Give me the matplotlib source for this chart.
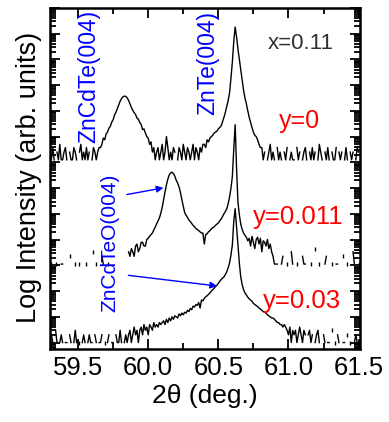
import numpy as np
import matplotlib
matplotlib.use("Agg")
import matplotlib.pyplot as plt
from matplotlib.ticker import MultipleLocator, LogLocator, NullFormatter, FormatStrFormatter

plt.rcParams['font.family'] = ['Liberation Sans', 'DejaVu Sans']

# scan grid, 2theta in degrees (step 0.01)
two_theta = np.round(np.arange(59.30, 61.5001, 0.01), 2)

# raw counts, y = 0
counts_y0 = (
    # 59.30 - 59.65
    [2, 1, 3, 1, 0, 2, 1, 4, 1, 1, 2, 3, 1, 0, 2, 1, 1, 3, 2, 1, 0, 2, 4, 1, 2, 1, 3, 1, 2, 0,
     1, 3, 2, 1, 2, 3]
    # 59.66 - 60.04  ZnCdTe(004)
    + [3, 4, 7, 6, 10, 12, 17, 20, 29, 36, 56, 70, 98, 140, 190, 240, 280, 300, 292, 260,
       205, 150, 110, 85, 68, 58, 42, 38, 28, 24, 15, 16, 11, 8, 7, 4, 5, 2, 3]
    # 60.05 - 60.39
    + [1, 2, 3, 1, 2, 4, 1, 2, 8, 3, 1, 2, 1, 3, 2, 0, 1, 3, 2, 1, 4, 2, 1, 3, 2, 1, 2, 4, 1, 3,
       2, 1, 3, 2, 4]
    # 60.40 - 60.80  ZnTe(004)
    + [4, 3, 6, 5, 7, 8, 9, 11, 12, 13, 16, 18, 21, 30, 45, 70, 120, 200, 400, 1500,
       6300, 40000, 145000, 60000, 20000, 8000, 3200, 1200, 500, 250, 150, 80, 45, 28, 18, 12,
       9, 8, 6, 4, 3]
    # 60.81 - 61.50
    + [3, 1, 2, 0, 1, 2, 4, 1, 2, 1, 0, 3, 1, 2, 1, 0, 2, 1, 3, 0, 1, 2, 1, 1, 0, 3, 1, 2, 0, 1,
       2, 3, 1, 0, 2, 1, 3, 1, 2, 0, 1, 4, 2, 1, 0, 2, 1, 3, 1, 0, 2, 1, 1, 3, 0, 2, 1, 2, 0, 1,
       3, 1, 0, 2, 1, 2, 0, 1, 3, 2]
)

# y = 0.011
counts_y011 = (
    # 59.30 - 59.85
    [0, 1, 0, 0, 1, 0, 0, 0, 1, 1, 0, 0, 0, 0, 2, 0, 0, 0, 1, 0, 0, 1, 0, 0, 0, 0, 1, 0, 0, 0,
     0, 3, 0, 1, 0, 0, 0, 2, 1, 0, 0, 1, 0, 0, 0, 0, 0, 0, 0, 0, 0, 0, 0, 0, 0, 0]
    # 59.86 - 60.70  ZnCdTeO(004) + ZnTe(004)
    + [3, 2, 4, 3, 2, 5, 6, 3, 4, 7, 7, 5, 5, 9, 10, 12, 14, 16, 21, 28,
       36, 48, 62, 95, 160, 320, 630, 1200, 2000, 2900, 3500, 3700, 3300, 2600, 1800, 1400, 1000, 600, 320, 180,
       100, 80, 63, 52, 45, 38, 32, 28, 24, 22, 20, 18, 16, 16, 6, 14, 15, 18, 20, 23,
       26, 28, 32, 36, 40, 48, 56, 70, 90, 110, 140, 220, 400, 900, 2500, 30000, 260000, 5000, 250, 80,
       35, 22, 16, 13, 11]
    # 60.71 - 60.90  shoulder
    + [8, 10, 5, 12, 7, 4, 9, 11, 6, 10, 3, 8, 7, 5, 9, 4, 6, 3, 2, 1]
    # 60.91 - 61.50
    + [1, 1, 0, 0, 1, 2, 0, 0, 1, 0, 0, 3, 1, 0, 0, 1, 0, 0, 0, 2, 1, 1, 0, 0, 0, 1, 0, 0, 4, 0,
       0, 1, 0, 0, 0, 1, 2, 0, 0, 0, 1, 0, 0, 1, 1, 0, 0, 0, 2, 0, 0, 1, 0, 0, 0, 3, 1, 0, 0, 1]
)

# y = 0.03
counts_y03 = (
    # 59.30 - 59.85
    [1, 2, 1, 0, 3, 1, 0, 1, 2, 1, 0, 1, 1, 0, 2, 1, 0, 1, 3, 1, 0, 1, 0, 1, 2, 1, 0, 1, 2, 1,
     1, 0, 2, 1, 0, 1, 1, 2, 0, 1, 0, 1, 2, 0, 1, 1, 0, 2, 1, 1, 3, 1, 0, 1, 2, 1]
    # 59.86 - 60.05
    + [2, 3, 1, 2, 4, 2, 3, 1, 3, 4, 2, 5, 3, 4, 2, 5, 4, 3, 6, 4]
    # 60.06 - 60.98  ZnTe(004) with ZnCdTeO shoulder
    + [5, 4, 6, 5, 6, 7, 5, 8, 6, 9, 7, 10, 8, 11, 10, 9, 13, 11, 14, 12,
       15, 14, 18, 16, 21, 19, 26, 24, 30, 28, 36, 22, 45, 42, 52, 60, 66, 75, 85, 100,
       112, 130, 150, 170, 200, 240, 280, 320, 355, 440, 560, 800, 1260, 2500, 6300, 50000, 160000, 30000, 5000, 1200,
       350, 180, 112, 85, 70, 58, 50, 45, 40, 33, 30, 27, 25, 22, 20, 18, 16, 15, 14, 12,
       11, 10, 9, 9, 8, 7, 6, 6, 5, 5, 4, 5, 4]
    # 60.99 - 61.21
    + [3, 2, 4, 1, 3, 2, 3, 1, 2, 4, 2, 1, 3, 2, 0, 2, 3, 1, 2, 0, 1, 2, 3]
    # 61.22 - 61.50
    + [1, 0, 0, 2, 1, 0, 1, 1, 0, 3, 0, 1, 0, 2, 1, 0, 0, 1, 1, 0, 2, 0, 1, 0, 0, 1, 2, 1, 0]
)

# vertical offsets (decades) used to stack the scans
offsets = [7.1, 3.05, 0.0]
labels = ["y=0", "y=0.011", "y=0.03"]

fig = plt.figure(figsize=(3.89, 4.22), dpi=100)
ax = fig.add_axes([0.1285, 0.173, 0.797, 0.808])

for c, off in zip([counts_y0, counts_y011, counts_y03], offsets):
    assert len(c) == len(two_theta), len(c)
    c = np.array(c, dtype=float)
    yv = np.where(c > 0, c, np.nan) * 10**off
    ax.plot(two_theta, yv, color='black', lw=1.0)
    # lone points between zero counts
    prev = np.r_[0, c[:-1]]
    nxt = np.r_[c[1:], 0]
    lone = (c > 0) & (prev == 0) & (nxt == 0)
    ax.plot(two_theta[lone], yv[lone], ls='none', marker='|', ms=3, mew=1.0, color='black')

ax.set_yscale('log')
ax.set_xlim(59.3, 61.51)
ax.set_ylim(10**-0.25, 10**13)

ax.xaxis.set_major_locator(MultipleLocator(0.5))
ax.xaxis.set_minor_locator(MultipleLocator(0.25))
ax.xaxis.set_major_formatter(FormatStrFormatter('%.1f'))
ax.yaxis.set_major_locator(LogLocator(base=10, numticks=40))
ax.yaxis.set_minor_locator(LogLocator(base=10, subs=np.arange(2, 10), numticks=40))
ax.yaxis.set_major_formatter(NullFormatter())
ax.yaxis.set_minor_formatter(NullFormatter())

ax.tick_params(which='both', direction='in', top=True, right=True, width=1.3)
ax.tick_params(which='major', length=7, labelsize=18.5, pad=5)
ax.tick_params(which='minor', length=4)
for s in ax.spines.values():
    s.set_linewidth(1.8)

ax.set_xlabel("2θ (deg.)", fontsize=19, labelpad=3)
ax.set_ylabel("Log Intensity (arb. units)", fontsize=19.5)
ax.yaxis.set_label_coords(-0.026, 0.503)

# annotations
ax.text(61.086, 10**11.64, "x=0.11", fontsize=16, color='#303030', ha='center', va='center')
ax.text(61.079, 10**8.62, labels[0], fontsize=18, color='red', ha='center', va='center')
ax.text(61.071, 10**4.86, labels[1], fontsize=18.5, color='red', ha='center', va='center')
ax.text(61.093, 10**1.60, labels[2], fontsize=18.5, color='red', ha='center', va='center')

ax.text(59.575, 10**10.36, "ZnCdTe(004)", fontsize=16.5, color='blue', rotation=90, ha='center', va='center')
ax.text(60.425, 10**10.87, "ZnTe(004)", fontsize=16.5, color='blue', rotation=90, ha='center', va='center')
ax.text(59.729, 10**3.89, "ZnCdTeO(004)", fontsize=15, color='blue', rotation=90, ha='center', va='center')

arrow = dict(arrowstyle='-|>', color='blue', lw=1.0, mutation_scale=10, shrinkA=0, shrinkB=0)
ax.annotate("", xy=(60.109, 10**6.012), xytext=(59.848, 10**5.752), arrowprops=arrow)
ax.annotate("", xy=(60.491, 10**2.198), xytext=(59.859, 10**2.612), arrowprops=arrow)

fig.savefig("out.png", dpi=100)
